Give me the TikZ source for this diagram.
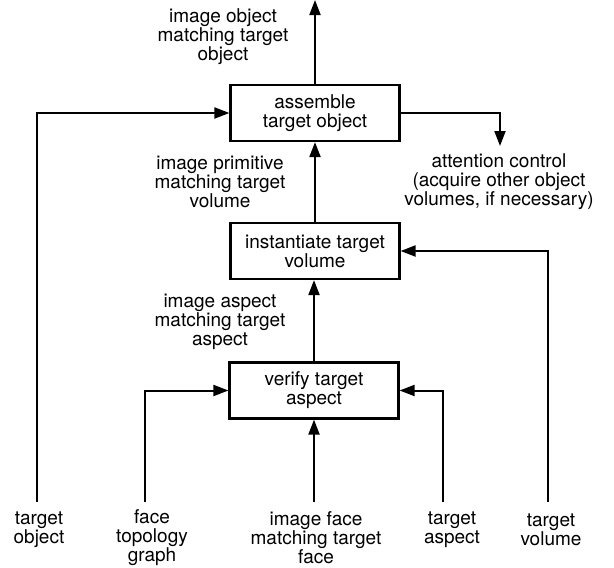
\documentclass[tikz,border=0pt]{standalone}
\usepackage{fontspec}
\setmainfont{TeX Gyre Heros}
\usetikzlibrary{arrows.meta}
\begin{document}
\begin{tikzpicture}[x={(1pt,0)}, y={(0,-1pt)},
  every node/.style={font=\fontsize{19}{19}\selectfont},
  procbox/.style={draw, line width=2.2pt, minimum width=169pt, minimum height=56pt,
    align=center, inner sep=0pt},
  lbl/.style={align=center, inner sep=0pt},
  flow/.style={line width=2pt, -{Triangle[length=15pt, width=11pt]}}]
\useasboundingbox (0,0) rectangle (614,568);

% processing stages
\node[procbox] (assemble) at (315,113) {assemble\\target object};
\node[procbox] (inst) at (315,251) {instantiate target\\volume};
\node[procbox] (verify) at (314,390.5) {verify target\\aspect};

% intermediate results
\node[lbl] (outobj) at (223,37) {image object\\matching target\\object};
\node[lbl] (prim) at (220,182) {image primitive\\matching target\\volume};
\node[lbl] (att) at (499,182) {attention control\\(acquire other object\\volumes, if necessary)};
\node[lbl] (asp) at (220,322) {image aspect\\matching target\\aspect};

% inputs at the bottom
\node[lbl] (tobj) at (39,530) {target\\object};
\node[lbl] (ftg) at (152,538) {face\\topology\\graph};
\node[lbl] (imf) at (316,538) {image face\\matching target\\face};
\node[lbl] (tasp) at (452,530) {target\\aspect};
\node[lbl] (tvol) at (551,530) {target\\volume};

% free ends of the connectors
\coordinate (top) at (315,0);
\coordinate (attend) at (500,146);
\coordinate (tobjend) at (37,502);
\coordinate (ftgend) at (145,502);
\coordinate (imfend) at (314,502);
\coordinate (taspend) at (443,502);
\coordinate (tvolend) at (548,502);

% connectors
\draw[flow] (assemble.north) -- (top);
\draw[flow] (assemble.east) -| (attend);
\draw[flow] (inst.north) -- (assemble.south -| inst.north);
\draw[flow] (verify.north) -- (inst.south -| verify.north);
\draw[flow] (tobjend) |- (assemble.west);
\draw[flow] (tvolend) |- (inst.east);
\draw[flow] (ftgend) |- (verify.west);
\draw[flow] (taspend) |- (verify.east);
\draw[flow] (imfend) -- (verify.south);
\end{tikzpicture}
\end{document}
